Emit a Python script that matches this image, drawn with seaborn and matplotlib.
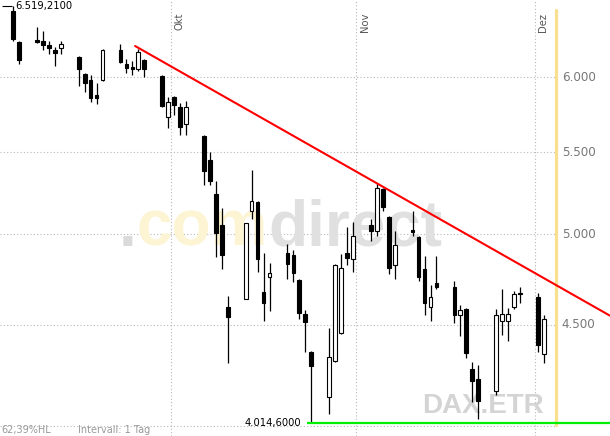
"""
DAX.ETR - Tageskerzen Sep-Dez 2008 mit Abwaertstrend und Tief-Linie
"""

import pandas as pd
import numpy as np
import matplotlib
matplotlib.use('Agg')
import matplotlib.pyplot as plt
import matplotlib.dates as mdates
import seaborn as sns

sns.set_style('white')
plt.rcParams['font.family'] = ['DejaVu Sans']

# Kursdaten
dates = ['2008-09-04', '2008-09-05', '2008-09-08', '2008-09-09', '2008-09-10', '2008-09-11', '2008-09-12',
         '2008-09-15', '2008-09-16', '2008-09-17', '2008-09-18', '2008-09-19',
         '2008-09-22', '2008-09-23', '2008-09-24', '2008-09-25', '2008-09-26',
         '2008-09-29', '2008-09-30', '2008-10-01', '2008-10-02', '2008-10-03',
         '2008-10-06', '2008-10-07', '2008-10-08', '2008-10-09', '2008-10-10',
         '2008-10-13', '2008-10-14', '2008-10-15', '2008-10-16', '2008-10-17',
         '2008-10-20', '2008-10-21', '2008-10-22', '2008-10-23', '2008-10-24',
         '2008-10-27', '2008-10-28', '2008-10-29', '2008-10-30', '2008-10-31',
         '2008-11-03', '2008-11-04', '2008-11-05', '2008-11-06', '2008-11-07',
         '2008-11-10', '2008-11-11', '2008-11-12', '2008-11-13', '2008-11-14',
         '2008-11-17', '2008-11-18', '2008-11-19', '2008-11-20', '2008-11-21',
         '2008-11-24', '2008-11-25', '2008-11-26', '2008-11-27', '2008-11-28',
         '2008-12-01', '2008-12-02']
opens = [6478, 6249, 6267, 6256, 6227, 6191, 6206,
         6141, 6021, 5979, 5876, 5979,
         6191, 6091, 6072, 6054, 6120,
         6008, 5728, 5863, 5795, 5682,
         5603, 5450, 5239, 5054, 4595,
         4640, 5135, 5190, 4676, 4758,
         4892, 4881, 4741, 4558, 4361,
         4141, 4316, 4458, 4894, 4858,
         5055, 5017, 5271, 5103, 4826,
         5024, 4985, 4804, 4597, 4723,
         4701, 4554, 4583, 4278, 4228,
         4167, 4519, 4522, 4593, 4669,
         4650, 4351]
highs = [6519.21, 6256, 6359, 6329, 6256, 6213, 6256,
         6145, 6025, 6014, 5958, 6198,
         6234, 6127, 6112, 6198, 6127,
         6014, 5863, 5869, 5822, 5836,
         5610, 5500, 5320, 5154, 4654,
         5068, 5387, 5195, 4892, 4836,
         4944, 4909, 4745, 4579, 4365,
         4484, 4830, 4887, 5044, 5071,
         5089, 5304, 5275, 5107, 5017,
         5138, 4990, 4875, 4716, 4875,
         4734, 4607, 4587, 4311, 4295,
         4586, 4690, 4590, 4683, 4701,
         4672, 4554]
lows = [6256, 6091, 6242, 6191, 6162, 6077, 6162,
        5938, 5897, 5829, 5815, 5972,
        6098, 6028, 6014, 6044, 6000,
        5795, 5655, 5742, 5610, 5610,
        5294, 5296, 4869, 4802, 4306,
        4636, 5091, 4785, 4521, 4575,
        4748, 4730, 4533, 4361, 4014.60,
        4059, 4312, 4453, 4824, 4785,
        4962, 4990, 5135, 4775, 4748,
        4990, 4734, 4554, 4522, 4693,
        4509, 4443, 4331, 4115, 4034,
        4148, 4450, 4419, 4583, 4615,
        4361, 4304]
closes = [6271, 6120, 6249, 6227, 6206, 6170, 6234,
          6056, 5958, 5855, 5855, 6191,
          6106, 6065, 6054, 6177, 6058,
          5802, 5829, 5808, 5662, 5795,
          5382, 5320, 5009, 4882, 4542,
          5065, 5198, 4860, 4618, 4780,
          4830, 4782, 4565, 4516, 4291,
          4336, 4824, 4808, 4864, 4990,
          5020, 5275, 5162, 4808, 4936,
          5013, 4759, 4618, 4650, 4701,
          4554, 4579, 4355, 4218, 4122,
          4551, 4558, 4558, 4665, 4662,
          4395, 4530]

# Achsen / Beschriftungen
grid_levels = [4000, 4500, 5000, 5500, 6000]
tick_levels = [4500, 5000, 5500, 6000]
tick_labels = ['4.500', '5.000', '5.500', '6.000']
month_starts = ['2008-10-01', '2008-11-01', '2008-12-01']
month_labels = ['Okt', 'Nov', 'Dez']
today = '2008-12-04'

# Trendlinie (Start, Beruehrungspunkt)
trend_dates = ['2008-09-24 11:00', '2008-11-04 00:00']
trend_prices = [6220, 5304]

df = pd.DataFrame({'date': pd.to_datetime(dates), 'open': opens, 'high': highs,
                   'low': lows, 'close': closes})
df['x'] = mdates.date2num(df['date'])
df['up'] = df['close'] >= df['open']

fig = plt.figure(figsize=(6.1, 4.36), dpi=100)
ax = fig.add_axes([0, 0, 1, 1])
ax.set_yscale('log')
x0 = df['x'].iloc[0]
xmin, xmax = x0 - 2.2, x0 + 100.1
ax.set_xlim(xmin, xmax)
ax.set_ylim(3956, 6561)
ax.axis('off')

grid_kw = dict(color='#b8b8b8', lw=0.8, ls=(0, (1, 2)), zorder=0)

# Gitter
for p in grid_levels:
    ax.axhline(p, xmin=0, xmax=0.91, **grid_kw)
for m in month_starts:
    ax.axvline(mdates.date2num(pd.Timestamp(m)) - 0.5, **grid_kw)

# Wasserzeichen
wm_kw = dict(fontsize=46, fontweight='bold', family='Liberation Sans', zorder=0.5)
t1 = ax.text(0.195, 0.436, '.', transform=ax.transAxes, va='baseline', color='#dadada', **wm_kw)
t2 = ax.annotate('com', xy=(1, 0), xycoords=t1, va='bottom', color='#fcf4d2', **wm_kw)
ax.annotate('direct', xy=(1, 0), xycoords=t2, va='bottom', color='#e0e0e0', **wm_kw)
ax.text(0.692, 0.053, 'DAX.ETR', transform=ax.transAxes, va='baseline', fontsize=20,
        fontweight='bold', family='Liberation Sans', color='#d4d4d4', zorder=0.5)

# Heute-Linie
ax.axvline(mdates.date2num(pd.Timestamp(today)), ymin=0.025, ymax=0.977,
           color='#f8e08e', lw=2.3, zorder=1)

# Kerzen
ax.vlines(df['x'], df['low'], df['high'], color='black', lw=0.9, zorder=3)
body_low = np.minimum(df['open'], df['close'])
body_h = np.abs(df['close'] - df['open'])
ax.bar(df['x'], body_h, bottom=body_low, width=0.62,
       color=np.where(df['up'], 'white', 'black'), edgecolor='black', linewidth=0.8, zorder=4)

# Abwaertstrend bis zum rechten Rand verlaengert
tx = mdates.date2num(pd.to_datetime(trend_dates))
slope = (np.log(trend_prices[1]) - np.log(trend_prices[0])) / (tx[1] - tx[0])
trend = pd.DataFrame({'x': [tx[0], xmax],
                      'p': [trend_prices[0], trend_prices[0] * np.exp(slope * (xmax - tx[0]))]})
sns.lineplot(data=trend, x='x', y='p', color='#ff0000', lw=1.5, ax=ax, zorder=5)

# Hoch / Tief
i_hi = df['high'].idxmax()
i_lo = df['low'].idxmin()
x_hi, p_hi = df.loc[i_hi, 'x'], df.loc[i_hi, 'high']
x_lo, p_lo = df.loc[i_lo, 'x'], df.loc[i_lo, 'low']
fmt = lambda v: f"{v:,.4f}".replace(',', 'X').replace('.', ',').replace('X', '.')
ax.hlines(p_hi, x_hi - 1.85, x_hi - 0.2, color='black', lw=0.8, zorder=5)
ax.annotate(fmt(p_hi), xy=(x_hi, p_hi), xytext=(1.5, 0), textcoords='offset points',
            ha='left', va='center', fontsize=7.2, color='black', zorder=6)
ax.hlines(p_lo, x_lo - 0.75, xmax, color='#00ee00', lw=1.6, zorder=5)
ax.annotate(fmt(p_lo), xy=(x_lo, p_lo), xytext=(-7.5, 0), textcoords='offset points',
            ha='right', va='center', fontsize=7.2, color='black', zorder=6)

# Achsbeschriftungen
for p, lab in zip(tick_levels, tick_labels):
    ax.text(0.921, p, lab, transform=ax.get_yaxis_transform(), ha='left', va='center',
            fontsize=8.6, color='#777777')
for m, lab in zip(month_starts, month_labels):
    ax.text(mdates.date2num(pd.Timestamp(m)) + 0.1, 0.97, lab, transform=ax.get_xaxis_transform(),
            rotation=90, ha='left', va='top', fontsize=7.2, color='#555555')

ax.text(0.002, 0.014, '62,39%HL', transform=ax.transAxes, ha='left', va='center',
        fontsize=7, color='#999999')
ax.text(0.128, 0.014, 'Intervall: 1 Tag', transform=ax.transAxes, ha='left', va='center',
        fontsize=7, color='#999999')

fig.savefig('out.png', dpi=100)
